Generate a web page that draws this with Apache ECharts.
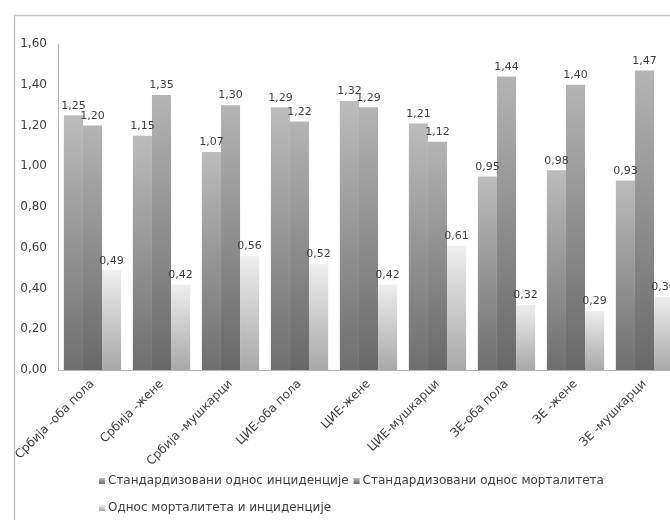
<!DOCTYPE html>
<html>
<head>
<meta charset="utf-8">
<script src="https://cdn.jsdelivr.net/npm/echarts@6/dist/echarts.min.js"></script>
<style>
  html, body { margin: 0; padding: 0; background: #ffffff; overflow: hidden; }
  #chart { width: 670px; height: 520px; }
</style>
</head>
<body>
<div id="chart"></div>
<script>
// Regions and sex groups along the category axis
var categories = [
  'Србија -оба пола', 'Србија -жене', 'Србија -мушкарци',
  'ЦИЕ-оба пола', 'ЦИЕ-жене', 'ЦИЕ-мушкарци',
  'ЗЕ-оба пола', 'ЗЕ -жене', 'ЗЕ -мушкарци'
];

// Standardised incidence ratio
var incidence = [1.25, 1.15, 1.07, 1.29, 1.32, 1.21, 0.95, 0.98, 0.93];
// Standardised mortality ratio
var mortality = [1.20, 1.35, 1.30, 1.22, 1.29, 1.12, 1.44, 1.40, 1.47];
// Mortality-to-incidence ratio
var ratio = [0.49, 0.42, 0.56, 0.52, 0.42, 0.61, 0.32, 0.29, 0.36];

var seriesNames = [
  'Стандардизовани однос инциденције',
  'Стандардизовани однос морталитета',
  'Однос морталитета и инциденције'
];

var yTicks = { min: 0, max: 1.6, step: 0.2 };

function comma(v) {
  return Number(v).toFixed(2).replace('.', ',');
}

function shade(top, bottom) {
  return new echarts.graphic.LinearGradient(0, 0, 0, 1, [
    { offset: 0, color: top },
    { offset: 1, color: bottom }
  ]);
}

var FONT = 'DejaVu Sans';
var TEXT = '#404040';

var labelStyle = {
  show: true,
  position: 'top',
  distance: 4,
  fontFamily: FONT,
  fontSize: 11,
  color: TEXT,
  formatter: function (p) { return comma(p.value); }
};

var legendText = { fontFamily: FONT, fontSize: 12, color: TEXT, padding: [0, 0, 0, -2] };

var chart = echarts.init(document.getElementById('chart'), null, { renderer: 'canvas' });

chart.setOption({
  backgroundColor: '#ffffff',
  animation: false,
  graphic: [{
    type: 'rect',
    left: 12, top: 13,
    shape: { width: 720, height: 600 },
    style: { fill: 'none', stroke: '#c4c4c4', lineWidth: 1.5 },
    silent: true
  }],
  // the plot runs past the right edge of the page, so the last group is cut off
  grid: { left: 58, top: 44, width: 621, height: 326, outerBoundsMode: 'none', containLabel: false },
  legend: [{
    data: [seriesNames[0], seriesNames[1]],
    left: 94, top: 470,
    icon: 'rect', itemWidth: 6, itemHeight: 6, itemGap: 5,
    textStyle: legendText
  }, {
    data: [seriesNames[2]],
    left: 94, top: 497,
    icon: 'rect', itemWidth: 6, itemHeight: 6, itemGap: 5,
    textStyle: legendText
  }],
  xAxis: {
    type: 'category',
    data: categories,
    axisLine: { show: true, lineStyle: { color: '#b4b4b4', width: 1 } },
    axisTick: { show: false },
    axisLabel: {
      interval: 0,
      rotate: 45,
      margin: 12,
      fontFamily: FONT,
      fontSize: 12,
      color: TEXT
    }
  },
  yAxis: {
    type: 'value',
    min: yTicks.min,
    max: yTicks.max,
    interval: yTicks.step,
    axisLine: { show: true, lineStyle: { color: '#b4b4b4', width: 1 } },
    axisTick: { show: false },
    splitLine: { show: false },
    axisLabel: {
      margin: 11,
      fontFamily: FONT,
      fontSize: 12,
      color: TEXT,
      formatter: comma
    }
  },
  series: [{
    name: seriesNames[0],
    type: 'bar',
    data: incidence,
    barGap: '0%',
    barCategoryGap: '17%',
    itemStyle: { color: shade('#bcbcbc', '#6e6e6e') },
    label: labelStyle
  }, {
    name: seriesNames[1],
    type: 'bar',
    data: mortality,
    barGap: '0%',
    barCategoryGap: '17%',
    itemStyle: { color: shade('#b4b4b4', '#686868') },
    label: labelStyle
  }, {
    name: seriesNames[2],
    type: 'bar',
    data: ratio,
    barGap: '0%',
    barCategoryGap: '17%',
    itemStyle: { color: shade('#eeeeee', '#a8a8a8') },
    label: labelStyle
  }]
});
</script>
</body>
</html>
